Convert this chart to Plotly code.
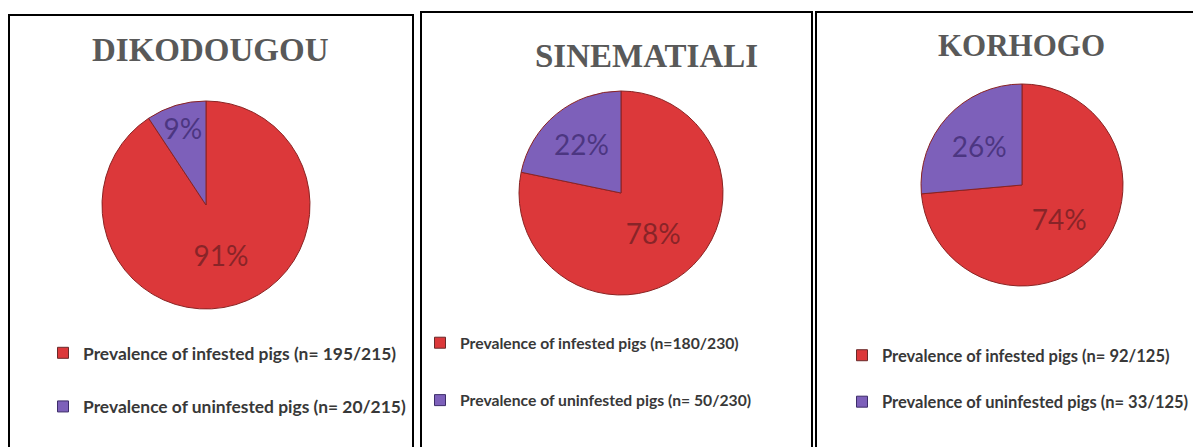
import plotly.graph_objects as go

W, H = 1201, 447
OFF = 8  # page body margin in the browser
FW, FH = W - OFF, H - OFF

regions = ["DIKODOUGOU", "SINEMATIALI", "KORHOGO"]
infested = [195, 180, 92]
uninfested = [20, 50, 33]
totals = [215, 230, 125]
infested_labels = [
    "Prevalence of infested pigs (n= 195/215)",
    "Prevalence of infested pigs (n=180/230)",
    "Prevalence of infested pigs (n= 92/125)",
]
uninfested_labels = [
    "Prevalence of uninfested pigs (n= 20/215)",
    "Prevalence of uninfested pigs (n= 50/230)",
    "Prevalence of uninfested pigs (n= 33/125)",
]

RED = "#DC383A"
PURPLE = "#7D60BA"
colors = [RED, PURPLE]
text_colors = ["rgba(110,30,35,0.75)", "rgba(60,40,110,0.75)"]


def px_x(v):
    return (v - OFF) / FW


def px_y(v):
    return 1 - (v - OFF) / FH


# layout geometry in screen pixels: (cx, cy, r)
pies = [(206, 205, 104), (621, 193, 102), (1022, 185, 101)]
titles_pos = [(210, 50, 33), (646, 56, 33), (1021, 45, 31)]
# (left, top, group gap, font size)
legend_pos = [(43, 335, 28, 17.4), (420, 326, 34, 15.7), (842, 338, 22, 16.5)]
panels = [(9, 15, 413), (421, 12, 812), (816, 12, 1205)]

fig = go.Figure()

for i in range(3):
    cx, cy, r = pies[i]
    leg = "legend" if i == 0 else f"legend{i+1}"
    fig.add_trace(go.Pie(
        labels=[infested_labels[i], uninfested_labels[i]],
        values=[infested[i], uninfested[i]],
        sort=False,
        direction="clockwise",
        rotation=0,
        marker=dict(colors=colors, line=dict(color="#8a2323", width=1)),
        textinfo="percent",
        texttemplate="%{percent:.0%}",
        textposition="inside",
        insidetextorientation="horizontal",
        textfont=dict(family="Lato", size=28, color=text_colors),
        domain=dict(x=[px_x(cx - r), px_x(cx + r)], y=[px_y(cy + r), px_y(cy - r)]),
        showlegend=False,
        hoverinfo="label+percent",
    ))
    for j, (lab, col) in enumerate(zip([infested_labels[i], uninfested_labels[i]], colors)):
        fig.add_trace(go.Scatter(
            x=[None], y=[None], mode="markers", name=lab,
            marker=dict(symbol="square", size=11, color=col,
                        line=dict(color="#6a2a2a" if j == 0 else "#3d2d6a", width=1)),
            legend=leg, legendgroup=f"g{i}_{j}", showlegend=True,
        ))

layout_legends = {}
for i in range(3):
    lx, ly, gap, fs = legend_pos[i]
    key = "legend" if i == 0 else f"legend{i+1}"
    layout_legends[key] = dict(
        x=px_x(lx), y=px_y(ly), xanchor="left", yanchor="top",
        font=dict(family="Lato", size=fs, color="#383838", weight="bold"),
        tracegroupgap=gap, bgcolor="rgba(0,0,0,0)", itemsizing="trace",
    )

annotations = []
for i in range(3):
    tx, ty, fs = titles_pos[i]
    annotations.append(dict(
        text=regions[i], x=px_x(tx), y=px_y(ty), xref="paper", yref="paper",
        xanchor="center", yanchor="middle", showarrow=False,
        font=dict(family="Liberation Serif", size=fs, color="#595959", weight="bold"),
    ))

shapes = []
for (x0, y0, x1) in panels:
    shapes.append(dict(
        type="rect", xref="paper", yref="paper",
        x0=px_x(x0), x1=px_x(x1), y0=-0.05, y1=px_y(y0),
        line=dict(color="black", width=2), fillcolor="rgba(0,0,0,0)", layer="below",
    ))

fig.update_layout(
    width=FW, height=FH,
    margin=dict(l=0, r=0, t=0, b=0),
    paper_bgcolor="white", plot_bgcolor="white",
    xaxis=dict(visible=False), yaxis=dict(visible=False),
    annotations=annotations, shapes=shapes,
    uniformtext=dict(minsize=26, mode="show"),
    **layout_legends,
)

fig.write_html("out.html")
